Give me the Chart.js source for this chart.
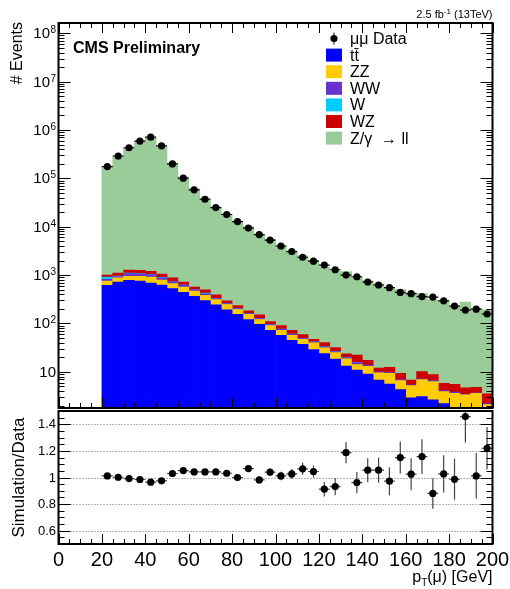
<!DOCTYPE html>
<html>
<head>
    <title>Muon pT</title>
    <style>
        body{
            margin:0;
            background:white;
        }
        #wrap{
            position:relative;
            width:510px;
            height:589px;
        }
        canvas{
            position:absolute;
            left:0;
        }
    </style>
</head>
<body>
<div id="wrap">
    <canvas id="main" width="510" height="412" style="top:0px"></canvas>
    <canvas id="ratio" width="510" height="189" style="top:400px"></canvas>
</div>

<script src="https://cdn.jsdelivr.net/npm/chart.js@4.4.0/dist/chart.umd.min.js"></script>
<script>

    // 5 GeV bins from 20 to 200 GeV
    const binCenters = [22.5, 27.5, 32.5, 37.5, 42.5, 47.5, 52.5, 57.5, 62.5, 67.5, 72.5, 77.5,
        82.5, 87.5, 92.5, 97.5, 102.5, 107.5, 112.5, 117.5, 122.5, 127.5, 132.5, 137.5,
        142.5, 147.5, 152.5, 157.5, 162.5, 167.5, 172.5, 177.5, 182.5, 187.5, 192.5, 197.5];
    const binWidth = 5;

    const data = [175000, 290000, 430000, 590000, 710000, 470000, 199000, 101000, 58000, 37000, 24900, 17900,
        12800, 9400, 6900, 5300, 4000, 3070, 2340, 1940, 1610, 1290, 1000, 925,
        720, 625, 551, 439, 414, 360, 350, 294, 229, 189, 198, 157];

    const ttbar = [617, 720, 780, 755, 687, 625, 525, 443, 366, 298, 243, 192,
        154, 121, 96, 72, 57, 45, 37, 29, 24, 18.4, 13.2, 10.9,
        9.0, 6.8, 5.6, 4.3, 2.9, 3.1, 2.65, 2.2, 1.0, 0.8, 0.8, 1.2];
    const zz = [138, 163, 162, 187, 225, 166, 140, 126, 99, 86, 69, 55,
        41, 33, 25, 19, 15, 12, 10, 11, 7.5, 6.6, 5.3, 3.2,
        4.0, 2.7, 3.7, 2.3, 2.3, 3.8, 3.65, 1.7, 2.6, 2.55, 2.8, 0.9];
    const ww = [60, 55, 130, 120, 100, 90, 70, 45, 30, 25, 15, 10,
        8, 6, 6, 4, 4, 3, 2, 1.5, 1.5, 1, 1, 1.5,
        0.8, 0.5, 0.4, 0.3, 0.2, 0.3, 0.3, 0.2, 0.2, 0.1, 0.1, 0.1];
    const wjets = [95, 20, 28, 20, 15, 15, 10, 6, 4, 15, 3, 2,
        2, 1, 1, 1, 0.5, 0.5, 0.4, 0.3, 0.3, 0.2, 0.2, 0.2,
        0, 0, 0, 0, 0, 0, 0, 0, 0, 0, 0, 0];
    const wz = [92, 144, 168, 168, 166, 155, 138, 100, 70, 70, 60, 35,
        30, 22, 23, 14, 14.5, 11.5, 9.6, 5.2, 7.1, 5.7, 3.8, 6.4,
        3.5, 2.0, 2.7, 2.4, 1.4, 2.9, 2.2, 1.7, 1.7, 1.2, 1.1, 1.3];
    const dy = [176100, 289500, 425300, 579900, 684000, 457200, 204100, 105500, 59870, 38060, 25560, 18180,
        12565, 9847, 6625, 5402, 3957, 3081, 2433, 1980, 1428, 1170, 1163, 868,
        743, 647, 523, 496, 417, 407, 299, 296, 220, 271, 195, 188];

    const ratio = [1.012, 1.002, 0.992, 0.985, 0.965, 0.975, 1.03, 1.052, 1.042, 1.042, 1.042, 1.032,
        1.0, 1.067, 0.982, 1.04, 1.012, 1.027, 1.065, 1.045, 0.912, 0.932, 1.187, 0.962,
        1.055, 1.055, 0.972, 1.15, 1.025, 1.157, 0.88, 1.027, 0.987, 1.458, 1.012, 1.22];
    const ratioErr = [0.006, 0.005, 0.004, 0.004, 0.004, 0.004, 0.006, 0.008, 0.01, 0.012, 0.014, 0.016,
        0.02, 0.022, 0.025, 0.028, 0.032, 0.036, 0.045, 0.045, 0.055, 0.065, 0.08, 0.08,
        0.09, 0.095, 0.105, 0.12, 0.12, 0.13, 0.115, 0.14, 0.155, 0.195, 0.17, 0.16];

    // axis ticks
    const xTickValues = [0, 20, 40, 60, 80, 100, 120, 140, 160, 180, 200];
    const xTickLabels = ['0', '20', '40', '60', '80', '100', '120', '140', '160', '180', '200'];
    const yDecades = [1, 2, 3, 4, 5, 6, 7, 8];
    const ratioTickValues = [0.6, 0.8, 1, 1.2, 1.4];
    const ratioTickLabels = ['0.6', '0.8', '1', '1.2', '1.4'];

    const FONT = '"Liberation Sans", Arial, Helvetica, sans-serif';

    function toPoints(values) {
        return binCenters.map((c, i) => ({x: c, y: values[i]}));
    }

    // horizontal bin-width bars and optional vertical error bars under the markers
    function drawBinBars(chart, values, errs, color) {
        const ctx = chart.ctx;
        const a = chart.chartArea;
        const x = chart.scales.x;
        const y = chart.scales.y;
        ctx.save();
        ctx.beginPath();
        ctx.rect(a.left, a.top, a.right - a.left, a.bottom - a.top);
        ctx.clip();
        ctx.strokeStyle = color;
        ctx.lineWidth = 1.2;
        binCenters.forEach((c, i) => {
            const py = y.getPixelForValue(values[i]);
            ctx.beginPath();
            ctx.moveTo(x.getPixelForValue(c - binWidth / 2), py);
            ctx.lineTo(x.getPixelForValue(c + binWidth / 2), py);
            if (errs) {
                const px = x.getPixelForValue(c);
                ctx.moveTo(px, y.getPixelForValue(values[i] - errs[i]));
                ctx.lineTo(px, y.getPixelForValue(values[i] + errs[i]));
            }
            ctx.stroke();
        });
        ctx.restore();
    }

    // inward ticks along the x axis, every 5 GeV with longer ones on the labelled values
    function drawXTicks(chart, withTop) {
        const ctx = chart.ctx;
        const a = chart.chartArea;
        const x = chart.scales.x;
        ctx.save();
        ctx.strokeStyle = '#000';
        ctx.lineWidth = 1;
        ctx.beginPath();
        for (let v = xTickValues[0]; v <= xTickValues[xTickValues.length - 1]; v += binWidth) {
            const len = xTickValues.includes(v) ? 10 : 5;
            const px = Math.round(x.getPixelForValue(v)) + 0.5;
            ctx.moveTo(px, a.bottom);
            ctx.lineTo(px, a.bottom - len);
            if (withTop) {
                ctx.moveTo(px, a.top);
                ctx.lineTo(px, a.top + len);
            }
        }
        ctx.stroke();
        ctx.restore();
    }

    function drawYTick(ctx, a, py, len) {
        py = Math.round(py) + 0.5;
        ctx.moveTo(a.left, py);
        ctx.lineTo(a.left + len, py);
        ctx.moveTo(a.right, py);
        ctx.lineTo(a.right - len, py);
    }

    function drawFrame(chart) {
        const ctx = chart.ctx;
        const a = chart.chartArea;
        ctx.save();
        ctx.strokeStyle = '#000';
        ctx.lineWidth = 2;
        ctx.strokeRect(a.left, a.top, a.right - a.left, a.bottom - a.top);
        ctx.restore();
    }

    function drawLegend(chart) {
        const ctx = chart.ctx;
        const sets = chart.data.datasets;
        const boxX = 326, textX = 350, top = 38.5, step = 16.6;
        ctx.save();
        ctx.font = '16px ' + FONT;
        ctx.textBaseline = 'middle';
        ctx.fillStyle = '#000';
        sets.forEach((ds, i) => {
            const cy = top + i * step;
            if (ds.type === 'line') {
                ctx.beginPath();
                ctx.arc(boxX + 8, cy, 3.6, 0, Math.PI * 2);
                ctx.fill();
                ctx.fillRect(boxX + 7.5, cy - 6, 1, 12);
            } else {
                ctx.fillStyle = ds.backgroundColor;
                ctx.fillRect(boxX, cy - 6.5, 16, 13);
            }
            ctx.fillStyle = '#000';
            ctx.fillText(ds.label, textX, cy + 1);
        });
        ctx.restore();
    }

    const mainPanel = {
        id: 'mainPanel',
        beforeDatasetDraw(chart, args) {
            if (args.index === 0) {
                drawBinBars(chart, data, null, '#000');
            }
        },
        afterDraw(chart) {
            const ctx = chart.ctx;
            const a = chart.chartArea;
            const y = chart.scales.y;

            drawFrame(chart);
            drawXTicks(chart, true);

            // log ticks: long at each decade, short at 2..9
            ctx.save();
            ctx.strokeStyle = '#000';
            ctx.lineWidth = 1;
            ctx.beginPath();
            for (let d = 0; d <= 8; d++) {
                for (let k = 1; k <= 9; k++) {
                    const v = k * Math.pow(10, d);
                    if (v < y.min || v > y.max) continue;
                    drawYTick(ctx, a, y.getPixelForValue(v), k === 1 ? 12 : 6);
                }
            }
            ctx.stroke();

            // decade labels with superscript exponent
            ctx.fillStyle = '#000';
            ctx.textBaseline = 'alphabetic';
            yDecades.forEach(e => {
                const py = y.getPixelForValue(Math.pow(10, e));
                ctx.font = '15px ' + FONT;
                ctx.textAlign = 'right';
                if (e === 1) {
                    ctx.fillText('10', 56, py + 5);
                } else {
                    ctx.fillText('10', 50, py + 5);
                    ctx.font = '10px ' + FONT;
                    ctx.textAlign = 'left';
                    ctx.fillText(String(e), 50.5, py);
                }
            });

            // axis title
            ctx.save();
            ctx.translate(17.5, 22);
            ctx.rotate(-Math.PI / 2);
            ctx.font = '16px ' + FONT;
            ctx.textAlign = 'right';
            ctx.textBaseline = 'middle';
            ctx.fillText('# Events', 0, 0);
            ctx.restore();

            ctx.font = 'bold 16px ' + FONT;
            ctx.textAlign = 'left';
            ctx.fillText('CMS Preliminary', 73, 53);

            // luminosity label, right aligned to the frame
            const parts = [['2.5 fb', 11, 0], ['-1', 8, -4], [' (13TeV)', 11, 0]];
            let total = 0;
            parts.forEach(p => {
                ctx.font = p[1] + 'px ' + FONT;
                total += ctx.measureText(p[0]).width;
            });
            let tx = a.right - total;
            parts.forEach(p => {
                ctx.font = p[1] + 'px ' + FONT;
                ctx.fillText(p[0], tx, 18 + p[2]);
                tx += ctx.measureText(p[0]).width;
            });
            ctx.restore();

            drawLegend(chart);
        }
    };

    const ratioPanel = {
        id: 'ratioPanel',
        beforeDatasetsDraw(chart) {
            const ctx = chart.ctx;
            const a = chart.chartArea;
            const y = chart.scales.y;
            ctx.save();
            ctx.strokeStyle = '#666';
            ctx.lineWidth = 1;
            ctx.setLineDash([1, 2]);
            ctx.beginPath();
            ratioTickValues.forEach(v => {
                const py = Math.round(y.getPixelForValue(v)) + 0.5;
                ctx.moveTo(a.left, py);
                ctx.lineTo(a.right, py);
            });
            ctx.stroke();
            ctx.restore();
        },
        beforeDatasetDraw(chart, args) {
            if (args.index === 0) {
                drawBinBars(chart, ratio, ratioErr, '#444');
            }
        },
        afterDraw(chart) {
            const ctx = chart.ctx;
            const a = chart.chartArea;
            const x = chart.scales.x;
            const y = chart.scales.y;

            drawFrame(chart);
            drawXTicks(chart, false);

            ctx.save();
            ctx.strokeStyle = '#000';
            ctx.lineWidth = 1;
            ctx.beginPath();
            for (let i = 11; i < 30; i++) {
                const v = i * 0.05;
                drawYTick(ctx, a, y.getPixelForValue(v), i % 4 === 0 ? 12 : 6);
            }
            ctx.stroke();

            ctx.fillStyle = '#000';
            ctx.font = '13px ' + FONT;
            ctx.textAlign = 'right';
            ctx.textBaseline = 'middle';
            ratioTickValues.forEach((v, i) => {
                ctx.fillText(ratioTickLabels[i], 56, y.getPixelForValue(v) + 0.5);
            });

            ctx.font = '20px ' + FONT;
            ctx.textAlign = 'center';
            ctx.textBaseline = 'alphabetic';
            xTickValues.forEach((v, i) => {
                ctx.fillText(xTickLabels[i], x.getPixelForValue(v), 165.5);
            });

            ctx.save();
            ctx.translate(19, y.getPixelForValue(1));
            ctx.rotate(-Math.PI / 2);
            ctx.font = '17px ' + FONT;
            ctx.textAlign = 'center';
            ctx.textBaseline = 'middle';
            ctx.fillText('Simulation/Data', 0, 0);
            ctx.restore();

            // x title with subscript T
            const parts = [['p', 16, 0], ['T', 10, 4], ['(\u03bc) [GeV]', 16, 0]];
            let total = 0;
            parts.forEach(p => {
                ctx.font = p[1] + 'px ' + FONT;
                total += ctx.measureText(p[0]).width;
            });
            let tx = a.right - total;
            ctx.textAlign = 'left';
            parts.forEach(p => {
                ctx.font = p[1] + 'px ' + FONT;
                ctx.fillText(p[0], tx, 182 + p[2]);
                tx += ctx.measureText(p[0]).width;
            });
            ctx.restore();
        }
    };

    function barSet(label, values, color) {
        return {
            label: label,
            data: toPoints(values),
            backgroundColor: color,
            borderWidth: 0,
            barPercentage: 1,
            categoryPercentage: 1
        };
    }

    const mainChart = new Chart('main', {
        type: 'bar',
        data: {
            datasets: [
                {
                    type: 'line',
                    label: '\u03bc\u03bc Data',
                    data: toPoints(data),
                    showLine: false,
                    pointRadius: 3.6,
                    pointBorderWidth: 0,
                    pointBackgroundColor: '#000',
                    borderColor: '#000',
                    backgroundColor: '#000'
                },
                barSet('tt\u0304', ttbar, '#0000ff'),
                barSet('ZZ', zz, '#ffcc00'),
                barSet('WW', ww, '#6633cc'),
                barSet('W', wjets, '#00ccff'),
                barSet('WZ', wz, '#cc0000'),
                barSet('Z/\u03b3  \u2192 ll', dy, '#99cc99')
            ]
        },
        options: {
            responsive: false,
            animation: false,
            layout: {padding: {left: 58.5, right: 17.5, top: 23, bottom: 1}},
            plugins: {
                legend: {display: false},
                tooltip: {enabled: false}
            },
            scales: {
                x: {type: 'linear', min: 0, max: 200, offset: false, stacked: true, display: false},
                y: {type: 'logarithmic', min: 1.79, max: 1.63e8, stacked: true, display: false}
            }
        },
        plugins: [mainPanel]
    });

    const ratioChart = new Chart('ratio', {
        type: 'line',
        data: {
            datasets: [{
                label: 'Simulation/Data',
                data: toPoints(ratio),
                showLine: false,
                pointRadius: 3.6,
                pointBorderWidth: 0,
                pointBackgroundColor: '#000',
                borderColor: '#000'
            }]
        },
        options: {
            responsive: false,
            animation: false,
            layout: {padding: {left: 58.5, right: 17.5, top: 11, bottom: 45}},
            plugins: {
                legend: {display: false},
                tooltip: {enabled: false}
            },
            scales: {
                x: {type: 'linear', min: 0, max: 200, display: false},
                y: {type: 'linear', min: 0.5, max: 1.5, display: false}
            }
        },
        plugins: [ratioPanel]
    });

</script>
</body>
</html>
